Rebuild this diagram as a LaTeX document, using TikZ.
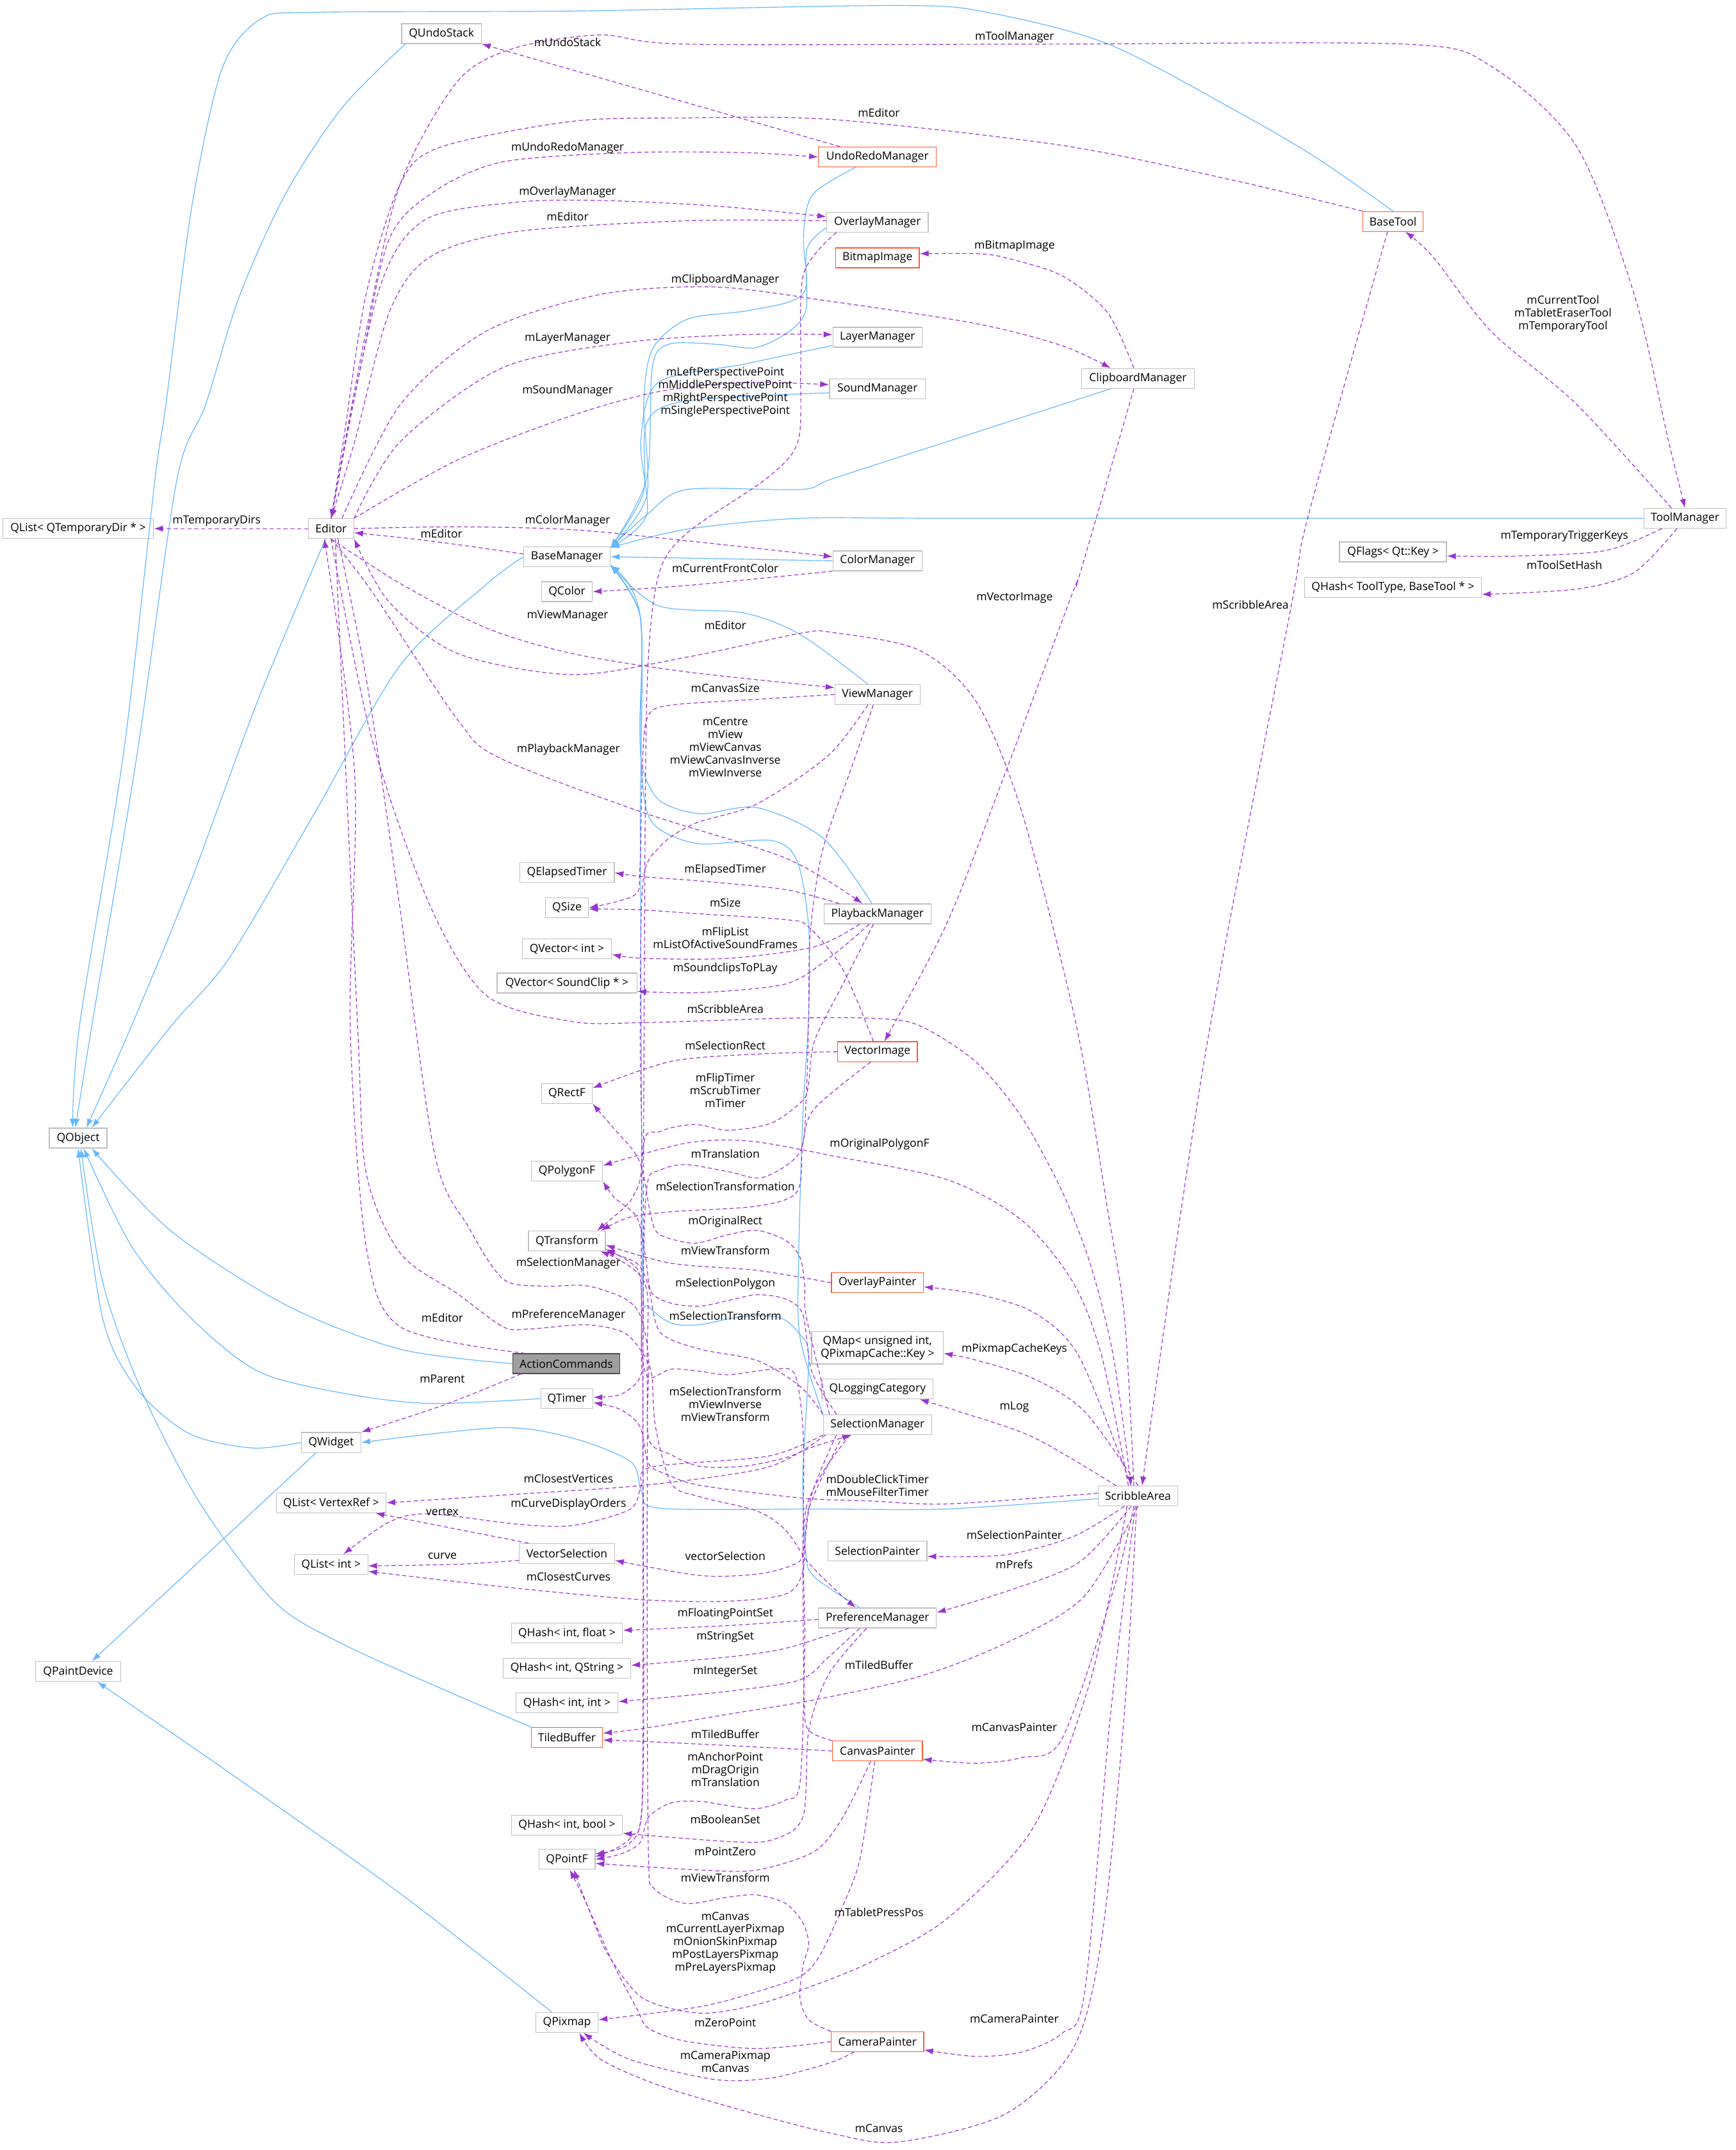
\documentclass[tikz,border=0pt]{standalone}
\usepackage{fontspec}
\newfontfamily\dotfont{Open Sans}
\usetikzlibrary{arrows.meta}
\definecolor{usecol}{HTML}{9A32CD}
\definecolor{inhcol}{HTML}{63B8FF}
\definecolor{hotcol}{HTML}{FF5A2A}
\definecolor{boxcol}{HTML}{BFBFBF}
\begin{document}
\begin{tikzpicture}[x=1pt, y=-1pt,
  cls/.style={draw=boxcol, fill=white, line width=0.6pt, minimum height=14.5pt, inner xsep=2pt, inner ysep=1pt, font=\dotfont\fontsize{8.2}{9.3}\selectfont},
  hot/.style={cls, draw=hotcol},
  cur/.style={cls, draw=gray!60!black, fill=gray!75},
  lbl/.style={inner sep=0pt, align=center, font=\dotfont\fontsize{8.2}{9.3}\selectfont},
  use/.style={draw=usecol, line width=0.55pt, dash pattern=on 3pt off 2pt, -{Latex[length=6.5pt,width=4.5pt]}},
  inh/.style={draw=inhcol, line width=0.55pt, -{Latex[length=6.5pt,width=4.5pt]}}]
\useasboundingbox (0,0) rectangle (1266,1568);
\fill[white] (0,0) rectangle (1266,1568);

% classes
\node[cls, minimum width=58pt] (qundo) at (322,24.5) {QUndoStack};
\node[hot, minimum width=86pt] (urm) at (640,114.5) {UndoRedoManager};
\node[cls, minimum width=74pt] (ovm) at (640,162) {OverlayManager};
\node[hot, minimum width=61pt] (bmp) at (640,188) {BitmapImage};
\node[cls, minimum width=65pt] (lym) at (640,246) {LayerManager};
\node[cls, minimum width=70pt] (snd) at (640,283.5) {SoundManager};
\node[cls, minimum width=82pt] (clip) at (830,276) {ClipboardManager};
\node[hot, minimum width=44pt] (btool) at (1016,161.5) {BaseTool};
\node[cls, minimum width=60pt] (tool) at (1229,378) {ToolManager};
\node[cls, minimum width=78pt] (qflags) at (1016,402.5) {QFlags< Qt::Key >};
\node[cls, minimum width=129pt] (qhtool) at (1016,428.5) {QHash< ToolType, BaseTool * >};
\node[cls, minimum width=110pt] (qltmp) at (57,385.5) {QList< QTemporaryDir * >};
\node[cls, minimum width=33pt] (ed) at (241.5,385.5) {Editor};
\node[cls, minimum width=63pt] (bm) at (413.5,406) {BaseManager};
\node[cls, minimum width=65pt] (colm) at (640,409) {ColorManager};
\node[cls, minimum width=37pt] (qcolor) at (413.5,431.5) {QColor};
\node[cls, minimum width=62pt] (vm) at (640,506.5) {ViewManager};
\node[cls, minimum width=69pt] (qelap) at (413.5,636.5) {QElapsedTimer};
\node[cls, minimum width=31.5pt] (qsize) at (413.5,662) {QSize};
\node[cls, minimum width=78pt] (pbm) at (640,666.5) {PlaybackManager};
\node[cls, minimum width=65pt] (qvint) at (413.5,692) {QVector< int >};
\node[cls, minimum width=102pt] (qvsnd) at (413.5,717) {QVector< SoundClip * >};
\node[hot, minimum width=58pt] (vimg) at (640,767) {VectorImage};
\node[cls, minimum width=37pt] (qrectf) at (413.5,797.5) {QRectF};
\node[cls, minimum width=42pt] (qobj) at (57,830) {QObject};
\node[cls, minimum width=52pt] (qpoly) at (413.5,854) {QPolygonF};
\node[cls, minimum width=56pt] (qtrans) at (413.5,905) {QTransform};
\node[hot, minimum width=67pt] (ovp) at (640,935.5) {OverlayPainter};
\node[cls, minimum width=96pt, minimum height=23.5pt, align=center] (qmap) at (640,983) {QMap< unsigned int,\\QPixmapCache::Key >};
\node[cls, minimum width=81pt] (qlog) at (640,1013) {QLoggingCategory};
\node[cur, minimum width=78pt] (act) at (413,994.5) {ActionCommands};
\node[cls, minimum width=38pt] (qtimer) at (413.5,1020) {QTimer};
\node[cls, minimum width=79pt] (selm) at (640,1039) {SelectionManager};
\node[cls, minimum width=43.5pt] (qwid) at (241.5,1052) {QWidget};
\node[cls, minimum width=58pt] (scrib) at (830,1091) {ScribbleArea};
\node[cls, minimum width=80pt] (qlvr) at (241.5,1096) {QList< VertexRef >};
\node[cls, minimum width=53.5pt] (qlint) at (241.5,1141) {QList< int >};
\node[cls, minimum width=69.5pt] (vsel) at (413.5,1133) {VectorSelection};
\node[cls, minimum width=72pt] (selp) at (640,1131) {SelectionPainter};
\node[cls, minimum width=81pt] (qhfloat) at (413.5,1191) {QHash< int, float >};
\node[cls, minimum width=86pt] (prefm) at (640,1180) {PreferenceManager};
\node[cls, minimum width=62pt] (qpaint) at (57,1219) {QPaintDevice};
\node[cls, minimum width=93pt] (qhstr) at (413.5,1216.5) {QHash< int, QString >};
\node[cls, minimum width=74.5pt] (qhint) at (413.5,1242) {QHash< int, int >};
\node[hot, minimum width=52pt] (tiled) at (413.5,1267) {TiledBuffer};
\node[hot, minimum width=65.5pt] (canv) at (640,1277) {CanvasPainter};
\node[cls, minimum width=81pt] (qhbool) at (413.5,1331) {QHash< int, bool >};
\node[cls, minimum width=41pt] (qpointf) at (413.5,1356) {QPointF};
\node[cls, minimum width=45.5pt] (qpix) at (413.5,1475) {QPixmap};
\node[hot, minimum width=67.5pt] (cam) at (640,1489) {CameraPainter};

% inheritance
\draw[inh] plot[smooth] coordinates {([xshift=3pt]qundo.south west) (250,78) (209,140) (175,215) (150,295) (129,350) (100,550) (67,748) ([xshift=-2pt]qobj.north)};
\draw[inh] plot[smooth] coordinates {(btool.north) (960,115) (900,80) (808,32) (720,9) (654,4) (420,8) (230,9) (190,14) (162,50) (140,150) (121,295) (113,350) (90,550) (58,748) ([xshift=-4pt]qobj.north)};
\draw[inh] plot[smooth] coordinates {([xshift=-4pt]ed.south) (188,511) (138,646) (96,748) ([xshift=6pt]qobj.north)};
\draw[inh] plot[smooth] coordinates {(bm.west) (355,426) (292,485) (230,592) (167,699) (125,748) ([xshift=10pt]qobj.north)};
\draw[inh] plot[smooth] coordinates {(act.west) (292,984) (209,952) (125,898) ([xshift=10pt]qobj.south)};
\draw[inh] plot[smooth] coordinates {(qtimer.west) (313,1023.5) (250,1016) (188,1000) (138,960) (96,909) ([xshift=4pt]qobj.south)};
\draw[inh] plot[smooth] coordinates {(qwid.west) (184,1056) (138,1045.5) (100,1013) (75,962) (qobj.south)};
\draw[inh] plot[smooth] coordinates {(tiled.north west) (330,1235) (250,1199) (200,1168) (146,1096.5) (104,1016) (75,935.5) ([xshift=2pt]qobj.south)};
\draw[inh] ([xshift=-11pt]qwid.south) -- ([xshift=10pt]qpaint.north);
\draw[inh] plot[smooth] coordinates {([xshift=-11pt]qpix.north) (292,1381) (167,1292.6) ([xshift=14pt]qpaint.south)};
\draw[inh] plot[smooth] coordinates {([yshift=-2pt]scrib.west) (690,1100.5) (600,1100.5) (482,1100) (468,1088) (460,1066) (416.6,1048.5) (364.5,1041.2) (qwid.east)};
\draw[inh] plot[smooth] coordinates {([xshift=-16pt]urm.south) (592.6,142) (586,172) (588,209) (576,220) (542.5,227) (500.8,233) (475.7,255) (469.5,295) (471.6,362) ([yshift=-1pt]bm.north east)};
\draw[inh] plot[smooth] coordinates {([yshift=-4pt]ovm.west) (588.4,182) (588,225) (576,241.5) (551,253.5) (521.6,251) (488,251) (475.7,268) (471.6,349) ([yshift=-1pt]bm.north east)};
\draw[inh] plot[smooth] coordinates {([yshift=-6pt]lym.west) (542.5,265.6) (480,279) (467.4,322) (471.6,375.6) ([yshift=-1pt]bm.north east)};
\draw[inh] plot[smooth] coordinates {([yshift=-3pt]snd.west) (500.8,292.4) (471.6,308.5) (469,360) ([yshift=-1pt]bm.north east)};
\draw[inh] plot[smooth] coordinates {([xshift=-20pt]clip.south) (691,322) (607.5,349) (584,357) (500.8,357) (471.6,375.6) ([yshift=-1pt]bm.north east)};
\draw[inh] plot[smooth] coordinates {(tool.west) (700,378) (584,378) (500.8,386) ([yshift=-1pt]bm.north east)};
\draw[inh] (colm.west) -- (bm.east);
\draw[inh] plot[smooth] coordinates {([xshift=-7pt]vm.north) (584,463) (542.5,447) (480,441.7) ([yshift=2pt]bm.south east)};
\draw[inh] plot[smooth] coordinates {([xshift=-4pt]pbm.north) (600,611) (552,589) (510.5,593.5) (481.3,584) (468.8,561) (466.7,530) (467,450) ([yshift=1pt]bm.south east)};
\draw[inh] plot[smooth] coordinates {(selm.north west) (583.5,975.5) (582.5,917) (585.6,813) (589.8,740) (589.8,676) (581.4,628) (562.7,613) (510.5,615.4) (481.3,605) (470.9,588) (467,540) (467,450) ([yshift=1pt]bm.south east)};
\draw[inh] plot[smooth] coordinates {([xshift=-13pt]prefm.north) (594,1150) (587.7,1133) (585.6,1075) (589.8,990) (583.5,973.4) (569,961) (541.8,960) (510.5,966) (489.7,965) (473,952.6) (468.8,938) (467.8,771) (467,600) (467,450) ([yshift=1pt]bm.south east)};

% usage, upper part
\draw[use] (ed.west) -- (qltmp.east);
\draw[use] plot[smooth] coordinates {(ed.north) (267,241.5) (292,134) (334,59) (375.6,35) (438,25.5) (500.8,32.2) (760,32.2) (1024.8,32.2) (1087,48) (1150,107) (1192,215) (1217,322) (tool.north)};
\draw[use] ([xshift=16pt]urm.north west) -- (qundo.south east);
\draw[use] plot[smooth] coordinates {(btool.north west) (899.6,131.5) (774.4,106) (607.5,87.2) (500.8,86) (417.3,88.5) (321.3,107.3) (292,134) (267,214.7) (250.4,322) (ed.north)};
\draw[use] plot[smooth] coordinates {(ed.north) (263,268) (283.8,174.4) (317,139.5) (367,118) (459,111.3) (542.5,111.3) (urm.west)};
\draw[use] plot[smooth] coordinates {(ed.north) (275.4,214.7) (308.8,161) (375.6,147.6) (438,146.2) (521.6,150.2) ([yshift=4pt]ovm.west)};
\draw[use] plot[smooth] coordinates {([yshift=1pt]ovm.west) (500.8,161) (375.6,169) (313,187.8) (283.8,228) (258.7,322) (ed.north)};
\draw[use] plot[smooth] coordinates {([xshift=8pt]ed.north) (292,295) (354.7,241.5) (438,214.7) (521.6,209.3) (607.5,220) (712,236) (774.4,252) ([xshift=-20pt]clip.north)};
\draw[use] plot[smooth] coordinates {([xshift=-3pt]clip.north) (807.8,228) (774.4,201) (732.7,187.8) (711.8,185) ([yshift=3pt]bmp.east)};
\draw[use] plot[smooth] coordinates {(ed.north east) (292,322) (367,268) (459,249.5) (542.5,244) ([yshift=2pt]lym.west)};
\draw[use] plot[smooth] coordinates {(ed.north east) (333.8,335.4) (417.3,303) (480,285.7) (542.5,279) ([yshift=3pt]snd.west)};
\draw[use] plot[smooth] coordinates {([xshift=-3pt]clip.south) (787,420.7) (782.8,431) (732.7,565) (691,672.5) ([xshift=5pt]vimg.north)};
\draw[use] plot[smooth] coordinates {([xshift=-4pt]btool.south) (954,377) (941.3,444.4) (878.7,771) ([xshift=3pt]scrib.north)};
\draw[use] plot[smooth] coordinates {([xshift=-10pt]tool.north) (1150,295) (1087.4,241.5) (1045.6,187.8) ([xshift=9pt]btool.south)};
\draw[use] plot[smooth] coordinates {([xshift=-17pt]tool.south) (1171,401.5) (1108,405.5) ([yshift=-3pt]qflags.east)};
\draw[use] plot[smooth] coordinates {([xshift=-6pt]tool.south) (1191.7,417.6) (1150,429.6) ([yshift=-5pt]qhtool.east)};
\draw[use] plot[smooth] coordinates {(ed.east) (333.8,384.2) (417.3,386.3) (500.8,394.4) ([yshift=3pt]colm.west)};
\draw[use] plot[smooth] coordinates {([yshift=2pt]bm.west) (313,394.4) ([yshift=-3pt]ed.east)};
\draw[use] plot[smooth] coordinates {(colm.south west) (500.8,427) (qcolor.east)};
\draw[use] plot[smooth] coordinates {(ed.south) (292,425.6) (354.7,458) (417.3,476.6) (500.8,490) ([yshift=5pt]vm.west)};
\draw[use] plot[smooth] coordinates {([xshift=-3pt]scrib.north) (820.3,962.3) (807.8,881.9) (785,747.7) (745.2,592) (711.8,511.5) (670,474) (607.5,461.3) (584,461.8) (500.8,479.3) (417.3,492) (333.8,476.6) (283.8,439) (ed.south east)};
\draw[use] plot[smooth] coordinates {(ed.south) (271,431) (333.8,525) (364.5,552.8) (468.8,592.5) (573,625.8) ([xshift=-11pt]pbm.north)};

% usage, middle part
\draw[use] plot[smooth] coordinates {(vm.west) (552.2,510) (489.7,514.2) (473,521.5) (468.8,550.7) (466.7,634) (462.5,653) (qsize.east)};
\draw[use] plot[smooth] coordinates {([xshift=-7pt]vm.south) (604.4,550.7) (552.2,586.2) (506.3,600.8) (481.3,617.5) (468.8,644.6) (467,760) (468,850) (462,872) (454.2,881.7) ([xshift=22pt]qtrans.north)};
\draw[use] plot[smooth] coordinates {([xshift=-28pt]pbm.north) (573,648.8) (510.5,642.5) (468.8,639.4) (qelap.east)};
\draw[use] plot[smooth] coordinates {([xshift=-3pt]vimg.north) (614.8,707.2) (589.8,676) (573,670.7) (510.5,666.5) (464.6,663.4) ([yshift=-1pt]qsize.east)};
\draw[use] plot[smooth] coordinates {([xshift=-13pt]pbm.south) (594,690.5) (531.4,698.9) (468.8,698.9) ([yshift=-4pt]qvint.east)};
\draw[use] plot[smooth] coordinates {([xshift=-6pt]pbm.south) (604.4,698.9) (573,717.6) (510.5,723.9) ([yshift=-6pt]qvsnd.east)};
\draw[use] plot[smooth] coordinates {(ed.south) (271,538) (313,659) (354.7,726) (417.3,745) (468.8,745.8) (573,742.6) (635.7,742.6) (670,747.7) (711.8,774.5) (745.2,814.8) (774.4,868.4) (795.3,922.1) (812,989.2) ([xshift=-5pt]scrib.north)};
\draw[use] plot[smooth] coordinates {(vimg.west) (552.2,768.7) (489.7,774) ([yshift=4pt]qrectf.east)};
\draw[use] plot[smooth] coordinates {([xshift=-3pt]pbm.south) (614.8,717.6) (594,759.3) (589.8,790) (585.6,802.4) (562.7,819) (531.4,824.3) (506.3,820.1) (481.3,825.3) (468.8,840) (467.8,980) (466.7,1004.7) (452.1,1017.2) ([yshift=1pt]qtimer.east)};
\draw[use] plot[smooth] coordinates {([xshift=-7pt]scrib.north) (803.6,989.2) (782.8,935.5) (745.2,889.9) (691,860.4) (607.5,843) (546.7,832.2) (500.8,833.6) ([yshift=4pt]qpoly.east)};
\draw[use] plot[smooth] coordinates {([xshift=-5pt]vimg.south) (594,808.6) (585.6,833.7) (581.4,869.1) (552.2,879.6) (489.7,883.7) (458.4,888) ([xshift=25pt]qtrans.north)};
\draw[use] plot[smooth] coordinates {([xshift=-3pt]vm.south) (621,560) (600,620) (591,680) (589.8,740) (588,800) (583.5,840) (556.4,858.7) (531.4,854.5) (500,849.3) (481.3,853.5) (471.9,865) (469,950) (469,1200) (468,1320) (458.4,1345) ([yshift=4pt]qpointf.east)};
\draw[use] plot[smooth] coordinates {([xshift=-35pt]selm.north) (588,960) (587,938) (583.5,917) (573,904.6) (552.2,897.3) (531.4,900.4) (506.3,906.7) (481.3,900.4) (475,888) (468.8,854.5) (462.5,840) (448,823.3) (qrectf.south east)};
\draw[use] plot[smooth] coordinates {([xshift=-30pt]selm.north) (592,1000) (585.6,958.8) (573,947.4) (552.2,944.2) (531.4,948.4) (510.5,952.6) (489.7,950.5) (475,942.2) (470.9,917.1) (464.6,888) (448,873.3) (qpoly.south east)};
\draw[use] plot[smooth] coordinates {(selm.north west) (583.5,1011) (552.2,992.2) (510.5,983.9) (481.3,971.4) (473,938) (464.6,921.3) (qtrans.south east)};
\draw[use] plot[smooth] coordinates {(ovp.west) (552.2,926.5) (489.7,921.3) ([yshift=-3pt]qtrans.east)};
\draw[use] plot[smooth] coordinates {([xshift=5pt]ed.south) (268,500) (290,650) (317,841.6) (342,895.3) (367,932.8) (395.8,938) (427,937.6) (454.2,946.3) (466.7,958.8) (473,990) (473,1048.5) (489.7,1061) (510.5,1069.4) (541.8,1069.4) (573,1063.1) (594,1054.8) ([xshift=-19pt]selm.south)};
\draw[use] plot[smooth] coordinates {([xshift=3pt]ed.south) (260.8,748) (267,855) (292,914) (333.8,943.6) (367,967.7) (385.4,969.3) (427,966.1) (454.2,971.4) (466.7,983.9) (475,1000.5) (478,1040) (489.7,1082) (510.5,1091.6) (552.2,1102) (573,1116) (590,1140) (610,1160) ([xshift=-16pt]prefm.north)};
\draw[use] plot[smooth] coordinates {([xshift=-30pt]act.north) (292,967.7) (267,908.7) (255.4,747.7) (258.7,565) ([xshift=-5pt]ed.south)};
\draw[use] plot[smooth] coordinates {([xshift=-33pt]act.south) (325.5,1024) (qwid.north east)};
\draw[use] plot[smooth] coordinates {([xshift=-5pt]scrib.north) (787,989.2) (753.6,957) (711.8,943.6) ([yshift=-3pt]ovp.east)};
\draw[use] plot[smooth] coordinates {(scrib.north) (791,1029.4) (753.6,1005.3) (711.8,991.9) ([yshift=-4pt]qmap.east)};
\draw[use] plot[smooth] coordinates {([xshift=-16pt]scrib.north) (753.6,1048.2) (699.3,1029.4) ([xshift=-10pt]qlog.south east)};
\draw[use] plot[smooth] coordinates {([yshift=2pt]scrib.west) (691.6,1096.8) (635.7,1094.7) (585.6,1092.6) (510.5,1083.2) (485.5,1074.9) (473,1067.3) (466.7,1040.2) (452,1027.7) ([yshift=-3pt]qtimer.east)};

% usage, lower part
\draw[use] plot[smooth] coordinates {([xshift=-10pt]scrib.south) (782.8,1120.6) (732.7,1134) ([yshift=-4pt]selp.east)};
\draw[use] plot[smooth] coordinates {([xshift=-5pt]scrib.south) (787,1139.4) (732.7,1161) ([yshift=4pt]prefm.east)};
\draw[use] plot[smooth] coordinates {(scrib.south) (790,1165) (732.7,1198.7) (670,1222.8) (594,1239.7) (531.4,1250.1) (468.8,1260.6) ([yshift=3pt]tiled.east)};
\draw[use] plot[smooth] coordinates {(canv.west) (531.4,1273) (468.8,1270) ([yshift=-2pt]tiled.east)};
\draw[use] plot[smooth] coordinates {([xshift=-30pt]selm.south) (592,1090) (585.6,1133.3) (577.3,1141.7) (552.2,1148) (510.5,1149) ([yshift=-5pt]vsel.east)};
\draw[use] plot[smooth] coordinates {([xshift=-25pt]selm.south) (590,1100) (585.6,1145.8) (573,1162.5) (531.4,1167.7) (468.8,1166.7) (375.6,1158.2) ([yshift=-5pt]qlint.east)};
\draw[use] plot[smooth] coordinates {([xshift=-38pt]selm.south) (560,1070) (471.6,1083) (375.6,1089.8) (qlvr.east)};
\draw[use] plot[smooth] coordinates {(selm.south west) (560,1062) (475,1070) (467.4,1085) (459,1101) (417.3,1112.6) (375.6,1111.4) (313,1104) (283.8,1110) ([xshift=9pt]qlint.north)};
\draw[use] plot[smooth] coordinates {([xshift=-28pt]vsel.north) (333.8,1115.3) ([xshift=-8pt]qlvr.south east)};
\draw[use] plot[smooth] coordinates {([yshift=-5pt]vsel.west) (333.8,1140.8) ([yshift=-1pt]qlint.east)};
\draw[use] plot[smooth] coordinates {([yshift=-1pt]prefm.west) (531.4,1185.5) ([yshift=2pt]qhfloat.east)};
\draw[use] plot[smooth] coordinates {([xshift=-21pt]prefm.south) (573,1202.1) (531.4,1208.4) ([yshift=2pt]qhstr.east)};
\draw[use] plot[smooth] coordinates {([xshift=-13pt]prefm.south) (604.4,1208.4) (583.5,1225.1) (531.4,1233.4) ([yshift=1pt]qhint.east)};
\draw[use] plot[smooth] coordinates {([xshift=-8pt]prefm.south) (604.4,1221) (589.8,1262.6) (585.6,1325.2) (562.7,1341.9) (531.4,1343) ([yshift=-6pt]qhbool.east)};
\draw[use] plot[smooth] coordinates {([xshift=-20pt]selm.south) (588,1100) (587,1200) (583.5,1300) (573,1312.7) (552.2,1319) (531.4,1316.9) (510.5,1313.7) (489.7,1314.8) (473,1325.2) (466.7,1344) (452.1,1352.3) (qpointf.east)};
\draw[use] plot[smooth] coordinates {([xshift=-5pt]canv.south) (614.8,1325.2) (594,1350.2) (552.2,1363.8) (510.5,1363.8) ([yshift=-3pt]qpointf.east)};
\draw[use] plot[smooth] coordinates {(canv.north west) (590,1262) (586.6,1241.8) (585.6,1137.5) (586,1050) (580,1003) (564.8,998.5) (531.4,1002.6) (510,1000) (489.7,998.5) (473,1004.7) (468,985) (468,950) (464.6,925) ([yshift=-6pt]qtrans.east)};
\draw[use] plot[smooth] coordinates {(cam.north west) (589.8,1473) (583.5,1457.2) (585.6,1433.7) (589.8,1418) (585.6,1402.3) (573,1388.2) (552.2,1382) (531.4,1383.5) (500,1388.2) (477.1,1377.3) (473,1355.3) (472,1200) (472,1000) (470,935) ([xshift=-4pt]qtrans.south east)};
\draw[use] plot[smooth] coordinates {([xshift=-2pt]canv.south) (627.3,1355.3) (614.8,1389.8) (598.1,1425.9) (583.5,1441.5) (552.2,1452.5) (510.5,1463.5) ([yshift=2pt]qpix.east)};
\draw[use] plot[smooth] coordinates {([xshift=-8pt]scrib.south) (795.3,1225.5) (753.6,1332.8) (691,1399) (635.7,1430.6) (594,1447.8) (552.2,1461.9) (510.5,1468.2) (468.8,1457.2) (443.8,1425.9) (433.3,1402.3) ([xshift=5pt]qpointf.south)};
\draw[use] plot[smooth] coordinates {(cam.west) (552.2,1494) (500,1488.6) (473,1479.2) (464.6,1465) (448,1433.7) (427,1386.7) ([xshift=2pt]qpointf.south)};
\draw[use] plot[smooth] coordinates {([xshift=-17pt]cam.south) (605,1504.5) (563.4,1515.3) (521.6,1516.6) (459,1501.8) ([xshift=12pt]qpix.south)};
\draw[use] plot[smooth] coordinates {([xshift=-1pt]scrib.south) (820,1250) (803.6,1413.3) (782.8,1493.8) (732.7,1542) (654.3,1562.2) (605,1555.5) (542.5,1539.4) (480,1520.6) (438,1501.8) ([xshift=9pt]qpix.south)};
\draw[use] plot[smooth] coordinates {([xshift=-3pt]scrib.south) (812,1160) (774.4,1268.4) (745.2,1281.8) (711.8,1285.9) ([yshift=-6pt]canv.east)};
\draw[use] plot[smooth] coordinates {([xshift=-2pt]scrib.south) (810,1250) (791,1453.5) (774.4,1483) (745.2,1496.5) (711.8,1499.7) ([yshift=-6pt]cam.east)};
\draw[use] plot[smooth] coordinates {([xshift=-30pt]ovm.south) (586,200) (584,268) (582,322) (559,349) (500.8,389) (480,420.7) (472,500) (470,700) (469,1000) (469,1300) (460,1340) ([yshift=2pt]qpointf.east)};

% member labels
\node[lbl] (lTmpDirs) at (158,380) {mTemporaryDirs};
\node[lbl] (lUndoStack) at (414,31) {mUndoStack};
\node[lbl] (lToolMgr) at (740,27) {mToolManager};
\node[lbl] (lEdTool) at (641,82) {mEditor};
\node[lbl] (lUndoRedo) at (414,108) {mUndoRedoManager};
\node[lbl] (lOverlayMgr) at (414,140) {mOverlayManager};
\node[lbl] (lEdOverlay) at (414,158) {mEditor};
\node[lbl] (lBitmap) at (740,179.5) {mBitmapImage};
\node[lbl] (lClipMgr) at (529,204) {mClipboardManager};
\node[lbl] (lCurTool) at (1140,229) {mCurrentTool\\mTabletEraserTool\\mTemporaryTool};
\node[lbl] (lLayerMgr) at (414,247) {mLayerManager};
\node[lbl] (lSoundMgr) at (414,285) {mSoundManager};
\node[lbl] (lPersp) at (529,286) {mLeftPerspectivePoint\\mMiddlePerspectivePoint\\mRightPerspectivePoint\\mSinglePerspectivePoint};
\node[lbl] (lTrigKeys) at (1141,391) {mTemporaryTriggerKeys};
\node[lbl] (lColorMgr) at (414,379.6) {mColorManager};
\node[lbl] (lEdBase) at (322,389) {mEditor};
\node[lbl] (lToolSet) at (1141,412) {mToolSetHash};
\node[lbl] (lFrontColor) at (529,414.4) {mCurrentFrontColor};
\node[lbl] (lScribTool) at (912,441) {mScribbleArea};
\node[lbl] (lVecImg) at (740,436) {mVectorImage};
\node[lbl] (lViewMgr) at (414,449) {mViewManager};
\node[lbl] (lEdScrib) at (529,456) {mEditor};
\node[lbl] (lCanvasSize) at (529,502) {mCanvasSize};
\node[lbl] (lCentre) at (529,545) {mCentre\\mView\\mViewCanvas\\mViewCanvasInverse\\mViewInverse};
\node[lbl] (lPlayMgr) at (414.6,546.6) {mPlaybackManager};
\node[lbl] (lElapsed) at (529,634.3) {mElapsedTimer};
\node[lbl] (lSize) at (529,658.4) {mSize};
\node[lbl] (lFlipList) at (529,684) {mFlipList\\mListOfActiveSoundFrames};
\node[lbl] (lClips) at (529,706.2) {mSoundclipsToPLay};
\node[lbl] (lScribEd) at (529,735.9) {mScribbleArea};
\node[lbl] (lSelRect) at (529,762.6) {mSelectionRect};
\node[lbl] (lTimers) at (529,795) {mFlipTimer\\mScrubTimer\\mTimer};
\node[lbl] (lOrigPoly) at (641.5,834.3) {mOriginalPolygonF};
\node[lbl] (lTransl) at (529,841.6) {mTranslation};
\node[lbl] (lSelTrafo) at (529,865) {mSelectionTransformation};
\node[lbl] (lOrigRect) at (529,891) {mOriginalRect};
\node[lbl] (lViewTrOvp) at (529,912.1) {mViewTransform};
\node[lbl] (lSelMgr) at (414.6,921.3) {mSelectionManager};
\node[lbl] (lSelPoly) at (529,936.5) {mSelectionPolygon};
\node[lbl] (lPrefMgr) at (414.6,959) {mPreferenceManager};
\node[lbl] (lSelTr) at (529,959.5) {mSelectionTransform};
\node[lbl] (lEdAct) at (322.6,961) {mEditor};
\node[lbl] (lPixKeys) at (739.8,983.8) {mPixmapCacheKeys};
\node[lbl] (lParent) at (322.6,1005.8) {mParent};
\node[lbl] (lCanvTr) at (529,1024) {mSelectionTransform\\mViewInverse\\mViewTransform};
\node[lbl] (lLog) at (739.8,1026) {mLog};
\node[lbl] (lClosestV) at (414.6,1078.2) {mClosestVertices};
\node[lbl] (lDblClick) at (640,1083.6) {mDoubleClickTimer\\mMouseFilterTimer};
\node[lbl] (lCurveOrd) at (414.6,1096.8) {mCurveDisplayOrders};
\node[lbl] (lVertex) at (322.6,1102.4) {vertex};
\node[lbl] (lSelPaint) at (739.8,1119.3) {mSelectionPainter};
\node[lbl] (lCurve) at (322.6,1134.9) {curve};
\node[lbl] (lVecSel) at (529,1134.8) {vectorSelection};
\node[lbl] (lPrefs) at (739.8,1141) {mPrefs};
\node[lbl] (lClosestC) at (414.6,1150) {mClosestCurves};
\node[lbl] (lFloatSet) at (529,1177.1) {mFloatingPointSet};
\node[lbl] (lStrSet) at (529,1193.8) {mStringSet};
\node[lbl] (lTiledScrib) at (641.1,1214.2) {mTiledBuffer};
\node[lbl] (lIntSet) at (529,1219.3) {mIntegerSet};
\node[lbl] (lCanvPaint) at (739.8,1259.8) {mCanvasPainter};
\node[lbl] (lTiledCanv) at (529,1264.7) {mTiledBuffer};
\node[lbl] (lAnchor) at (529,1290.4) {mAnchorPoint\\mDragOrigin\\mTranslation};
\node[lbl] (lBoolSet) at (529,1326.7) {mBooleanSet};
\node[lbl] (lPointZero) at (529,1350.3) {mPointZero};
\node[lbl] (lViewTrCam) at (529,1369.4) {mViewTransform};
\node[lbl] (lTablet) at (641.1,1394.5) {mTabletPressPos};
\node[lbl] (lPixmaps) at (529,1416.9) {mCanvas\\mCurrentLayerPixmap\\mOnionSkinPixmap\\mPostLayersPixmap\\mPreLayersPixmap};
\node[lbl] (lCamPaint) at (739.8,1472.3) {mCameraPainter};
\node[lbl] (lZeroPt) at (529,1475) {mZeroPoint};
\node[lbl] (lCamPix) at (529,1503.6) {mCameraPixmap\\mCanvas};
\node[lbl] (lCanvScrib) at (641,1552) {mCanvas};
\end{tikzpicture}
\end{document}
